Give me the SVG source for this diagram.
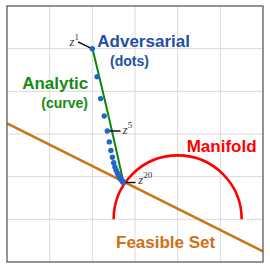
<svg xmlns="http://www.w3.org/2000/svg" width="270" height="270" viewBox="0 0 270 270">
<style>
.grid{stroke:#d9d9d9;stroke-width:1;fill:none}
.frame{stroke:#4d4d4d;stroke-width:1.2;fill:none}
.lbl{font-family:"Liberation Sans",Arial,sans-serif;font-weight:bold}
.z{font-family:"Liberation Serif","Times New Roman",serif;font-style:italic;font-size:12.5px;fill:#333}
.sup{font-size:9px;font-style:normal}
.tick{stroke:#000;stroke-width:1.4}
.dot{fill:#2563c9}
</style>
<rect width="270" height="270" fill="#fff"/>
<g id="grid" class="grid">
<path d="M49.67 6V262M92.33 6V262M135 6V262M177.67 6V262M220.33 6V262M7 48.67H263M7 91.33H263M7 134H263M7 176.67H263M7 219.33H263"/>
</g>
<g id="connectors">
<g id="feasible-set"><line x1="7" y1="123.3" x2="263" y2="251.3" stroke="#cc7214" stroke-width="2.6"/></g>
<g id="manifold"><path d="M113.67 219.33A64 64 0 0 1 241.67 219.33" fill="none" stroke="#ff0000" stroke-width="2.6"/></g>
<g id="analytic"><path d="M92.5 48.8Q108 112 123.5 182.5" fill="none" stroke="#0a870a" stroke-width="2"/></g>
<g id="ticks">
<line class="tick" x1="78" y1="41.8" x2="92.3" y2="48.8"/>
<line class="tick" x1="107.3" y1="131" x2="120.5" y2="131"/>
<line class="tick" x1="123.3" y1="182.5" x2="135.5" y2="182.5"/>
</g>
</g>
<g id="dots">
<circle class="dot" cx="92.3" cy="48.8" r="2.7"/>
<circle class="dot" cx="97.1" cy="76.7" r="2.7"/>
<circle class="dot" cx="100.6" cy="98.6" r="2.7"/>
<circle class="dot" cx="104.2" cy="116" r="2.7"/>
<circle class="dot" cx="107.3" cy="131" r="2.7"/>
<circle class="dot" cx="109.3" cy="141.9" r="2.7"/>
<circle class="dot" cx="110.9" cy="150.5" r="2.7"/>
<circle class="dot" cx="112.4" cy="157.3" r="2.7"/>
<circle class="dot" cx="113.7" cy="162.7" r="2.7"/>
<circle class="dot" cx="114.9" cy="166.9" r="2.7"/>
<circle class="dot" cx="116.1" cy="170.3" r="2.7"/>
<circle class="dot" cx="117.3" cy="172.9" r="2.7"/>
<circle class="dot" cx="118.4" cy="175" r="2.7"/>
<circle class="dot" cx="119.4" cy="176.7" r="2.7"/>
<circle class="dot" cx="120.2" cy="178" r="2.7"/>
<circle class="dot" cx="121" cy="179.2" r="2.7"/>
<circle class="dot" cx="121.7" cy="180.2" r="2.7"/>
<circle class="dot" cx="122.3" cy="181" r="2.7"/>
<circle class="dot" cx="122.8" cy="181.8" r="2.7"/>
<circle class="dot" cx="123.3" cy="182.5" r="2.7"/>
</g>
<g id="labels">
<text class="z" x="69.5" y="46">z<tspan class="sup" dy="-6">1</tspan></text>
<text class="z" x="122.8" y="134.3">z<tspan class="sup" dy="-6">5</tspan></text>
<text class="z" x="138.3" y="184.3">z<tspan class="sup" dy="-6">20</tspan></text>
</g>
<g id="adversarial">
<text class="lbl" x="97.3" y="46.7" font-size="17" fill="#1f4fa8">Adversarial</text>
<text class="lbl" x="110" y="65.5" font-size="14" fill="#1f4fa8">(dots)</text>
</g>
<g id="analytic-label">
<text class="lbl" x="88.3" y="89.3" font-size="17" fill="#168a16" text-anchor="end">Analytic</text>
<text class="lbl" x="88" y="107.5" font-size="14" fill="#168a16" text-anchor="end">(curve)</text>
</g>
<g id="manifold-label"><text class="lbl" x="186.7" y="151.7" font-size="17" fill="#ff0000">Manifold</text></g>
<g id="feasible-label"><text class="lbl" x="116" y="247.7" font-size="17" fill="#cc7214">Feasible Set</text></g>
<rect id="frame" class="frame" x="7" y="6" width="256" height="256"/>
</svg>
